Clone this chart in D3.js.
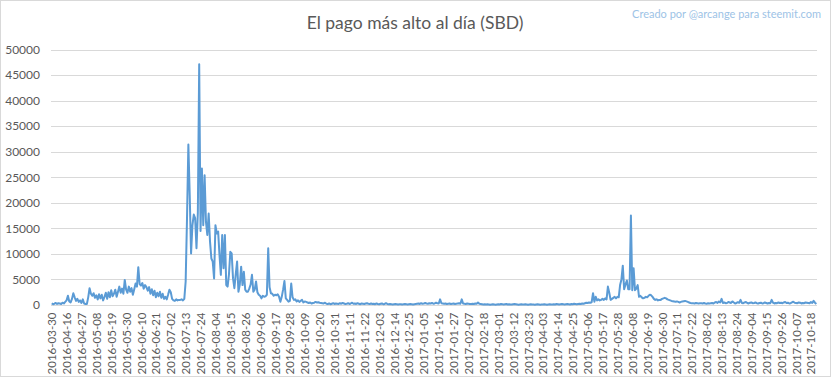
<!DOCTYPE html>
<html><head><meta charset="utf-8">
<script src="https://cdn.jsdelivr.net/npm/d3@7"></script>
<style>body{margin:0;background:#fff;} text{font-family:Lato,"Noto Sans",sans-serif;}</style>
</head><body>
<svg id="chart" width="833" height="379"></svg>
<script>
const title = "El pago más alto al día (SBD)";
const credit = "Creado por @arcange para steemit.com";
// first categories (irregular dates before daily data)
const firstDates = ["2016-03-30","2016-04-06","2016-04-07","2016-04-08","2016-04-09","2016-04-10","2016-04-11","2016-04-12","2016-04-13","2016-04-14","2016-04-15"];
const dailyStart = "2016-04-16";
const tickLabels = ["2016-03-30","2016-04-16","2016-04-27","2016-05-08","2016-05-19","2016-05-30","2016-06-10","2016-06-21","2016-07-02","2016-07-13","2016-07-24","2016-08-04","2016-08-15","2016-08-26","2016-09-06","2016-09-17","2016-09-28","2016-10-09","2016-10-20","2016-10-31","2016-11-11","2016-11-22","2016-12-03","2016-12-14","2016-12-25","2017-01-05","2017-01-16","2017-01-27","2017-02-07","2017-02-18","2017-03-01","2017-03-12","2017-03-23","2017-04-03","2017-04-14","2017-04-25","2017-05-06","2017-05-17","2017-05-28","2017-06-08","2017-06-19","2017-06-30","2017-07-11","2017-07-22","2017-08-02","2017-08-13","2017-08-24","2017-09-04","2017-09-15","2017-09-26","2017-10-07","2017-10-18"];
const yTicks = [0,5000,10000,15000,20000,25000,30000,35000,40000,45000,50000];
// highest daily payout (SBD)
const values = [
300,150,250,400,200,350,300,200,450,300,
600,900,1800,700,500,1200,2300,1500,800,1200,
600,900,400,1100,300,200,200,1500,3300,2200,
1800,2300,1400,1900,1100,2100,1300,2000,900,1600,
2400,1200,2500,1500,2900,1700,2200,3000,1600,2600,
3600,2400,3200,2200,4900,3000,2400,3600,2600,3300,
2000,3100,4200,3600,7400,4100,3800,4300,3200,3900,
3500,2800,3500,2200,3100,1900,2800,1500,2400,1700,
2600,1400,2200,1200,1600,1100,2000,3000,2500,1200,
900,800,1100,900,1000,1000,1100,900,1200,4600,
17000,31400,21500,10100,15600,17700,17000,11100,18000,47100,
14500,26700,15600,25400,16300,13700,17900,12400,9100,8500,
5200,15600,14000,14350,9800,5900,13700,7200,13700,3900,
3600,6000,10400,10100,5200,3300,6000,8500,2600,4000,
7500,3900,6500,3000,2600,2600,3200,4000,5900,2600,
3000,4600,2500,2000,1800,1300,1800,1600,1700,2000,
11100,3500,2300,2200,1800,2000,1900,2100,1600,650,
1600,3000,4700,1300,1000,650,800,4200,1500,1000,
1100,700,900,600,800,1000,500,700,600,500,
400,500,300,400,450,600,500,550,450,400,
350,300,450,250,200,300,150,250,350,200,
300,250,200,350,250,400,300,200,250,350,
200,300,450,250,300,200,350,250,150,300,
250,200,300,350,250,200,300,200,250,150,
300,200,150,250,300,150,200,350,200,150,
200,150,100,150,200,150,100,150,150,100,
150,200,150,100,150,200,150,100,150,200,
250,300,200,350,250,300,400,300,250,350,
300,400,250,300,450,350,300,1100,350,300,
250,300,200,250,300,200,250,300,200,250,
300,350,250,1100,300,250,200,300,250,200,
200,250,200,300,250,500,250,200,150,100,
150,100,150,100,50,100,150,100,50,100,
150,100,200,150,100,150,200,100,150,100,
100,150,200,150,100,50,100,150,100,100,
150,100,50,100,150,100,100,50,100,150,
100,50,100,100,150,100,50,100,150,100,
100,150,100,200,150,100,150,200,150,100,
150,200,150,100,200,150,250,200,150,200,
250,200,300,250,350,450,400,500,450,550,
2300,650,1600,900,1100,900,1000,1200,1000,1300,
1100,3600,2400,1000,1200,1400,1600,1300,1600,1500,
3900,5000,7700,3100,4000,4800,3100,3100,17500,2900,
7200,2900,3200,3900,1600,1800,1500,1300,1400,1600,
1500,1800,2000,1900,1600,1200,1000,1100,900,1000,
1000,1200,1300,1400,1300,1100,1000,900,800,750,
700,650,700,600,500,600,700,750,800,700,
600,500,400,350,330,300,400,350,300,330,
350,300,400,300,250,330,300,350,400,300,
500,600,400,700,500,1200,400,500,350,400,
600,500,400,700,500,300,400,550,450,1000,
400,350,500,600,400,300,450,500,350,400,
500,350,300,400,450,300,350,500,400,300,
400,350,1000,450,300,400,350,500,400,450,
350,500,600,400,450,300,350,500,650,450,
400,350,500,450,300,400,350,500,450,400,
350,600,400,800,450,200
];

// build categories
const parse = d3.timeParse("%Y-%m-%d"), fmt = d3.timeFormat("%Y-%m-%d");
const categories = firstDates.slice();
let d0 = parse(dailyStart);
while (categories.length < values.length) { categories.push(fmt(d0)); d0 = d3.timeDay.offset(d0, 1); }
const data = categories.map((c, i) => ({c, v: values[i]}));

const svg = d3.select("#chart");
const W = 833, H = 379;
const L = 51, R = 817, T = 49.5, B = 305;

svg.append("rect").attr("x",0.5).attr("y",0.5).attr("width",W-3).attr("height",H-3)
  .attr("fill","#fff").attr("stroke","#d9d9d9");

const x = d3.scalePoint().domain(categories).range([L, R]).padding(0.5);
const y = d3.scaleLinear().domain([0, 50000]).range([B, T]);

// gridlines
svg.append("g").selectAll("line").data(yTicks).join("line")
  .attr("x1", L).attr("x2", R)
  .attr("y1", d => Math.round(y(d)) + 0.5).attr("y2", d => Math.round(y(d)) + 0.5)
  .attr("stroke", "#d9d9d9").attr("stroke-width", 1);

// y axis labels
const yAxis = d3.axisLeft(y).tickValues(yTicks).tickSize(0).tickPadding(11).tickFormat(d3.format("d"));
const gy = svg.append("g").attr("transform", `translate(${L},0)`).call(yAxis);
gy.select(".domain").remove();
gy.selectAll("text").attr("fill", "#595959").style("font-size", "12px").style("font-family","Lato,'Noto Sans',sans-serif");

// x axis
const xAxis = d3.axisBottom(x).tickValues(tickLabels).tickSize(0).tickPadding(0);
const gx = svg.append("g").attr("transform", `translate(0,${Math.round(B)+0.5})`).call(xAxis);
gx.select(".domain").attr("stroke", "#d9d9d9").attr("d", `M${L},0H${R}`);
gx.selectAll("text").attr("fill", "#595959").style("font-size", "11.5px")
  .style("font-family","Lato,'Noto Sans',sans-serif")
  .attr("transform", "rotate(-90)").attr("text-anchor", "end")
  .attr("x", -7).attr("y", 0).attr("dy", "0.35em");

// line
const line = d3.line().x(d => x(d.c)).y(d => y(d.v));
svg.append("path").datum(data).attr("fill", "none").attr("stroke", "#5b9bd5")
  .attr("stroke-width", 2).attr("stroke-linejoin", "round").attr("d", line);

// title
svg.append("text").attr("x", 415).attr("y", 29).attr("text-anchor", "middle")
  .attr("fill", "#595959").style("font-size", "17.5px").text(title);
svg.append("text").attr("x", 821).attr("y", 18).attr("text-anchor", "end")
  .attr("fill", "#9dc3e6").style("font-size", "11px").text(credit);
</script>
</body></html>
